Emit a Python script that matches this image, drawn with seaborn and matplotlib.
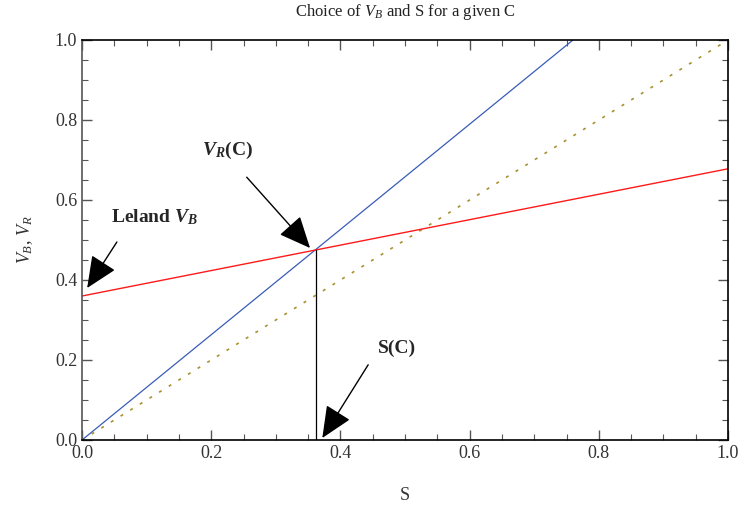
import numpy as np
import pandas as pd
import seaborn as sns
import matplotlib
matplotlib.use("Agg")
import matplotlib.pyplot as plt
from matplotlib.ticker import MultipleLocator

sns.set_style("ticks")
plt.rcParams["font.family"] = ["Liberation Serif", "DejaVu Serif"]
plt.rcParams["mathtext.fontset"] = "custom"
plt.rcParams["mathtext.it"] = "Liberation Serif:italic"
plt.rcParams["mathtext.bf"] = "Liberation Serif:bold:italic"
plt.rcParams["mathtext.rm"] = "Liberation Serif"

# Line endpoints (S, value)
s_leland = [0.0, 1.0]
v_leland = [0.36, 0.678]
s_vr = [0.0, 0.76]
v_vr = [0.0, 1.0]
s_diag = [0.0, 1.0]
v_diag = [0.0, 1.0]
s_c = 0.362
v_c = 0.476

fig = plt.figure(figsize=(7.43, 5.07), dpi=100)
ax = fig.add_axes([82 / 743, 67 / 507, 646 / 743, 400 / 507])

sns.lineplot(x=s_diag, y=v_diag, ax=ax, color="#a89030", lw=1.2,
             linestyle=(0, (1.8, 5)))
sns.lineplot(x=s_vr, y=v_vr, ax=ax, color="#3a5cb8", lw=0.9)
sns.lineplot(x=s_leland, y=v_leland, ax=ax, color="#ff1a1a", lw=1.0)
ax.plot([s_c, s_c], [0, v_c], color="black", lw=0.9)

ax.set_xlim(0, 1)
ax.set_ylim(0, 1)
ax.xaxis.set_major_locator(MultipleLocator(0.2))
ax.yaxis.set_major_locator(MultipleLocator(0.2))
ax.xaxis.set_minor_locator(MultipleLocator(0.05))
ax.yaxis.set_minor_locator(MultipleLocator(0.05))
ax.tick_params(which="both", direction="in", top=True, right=True,
               colors="#555555", labelcolor="#333333", labelsize=13)
ax.tick_params(which="major", length=7, width=1)
ax.tick_params(which="minor", length=4, width=0.8)
for sp in ax.spines.values():
    sp.set_color("#555555")
    sp.set_linewidth(1.2)
ax.spines["bottom"].set_color("black")
ax.spines["right"].set_color("black")
ax.spines["top"].set_color("black")

ax.set_xlabel("S", fontsize=13, color="#333333", labelpad=18)
ax.set_ylabel(r"$V_B$, $V_R$", fontsize=13, color="#333333", labelpad=14)
ax.set_title(r"Choice of $V_B$ and S for a given C", fontsize=12,
             color="#222222", pad=17)

arrow = dict(arrowstyle="-|>,head_length=0.9,head_width=0.4",
             mutation_scale=22, lw=1.0, color="black", shrinkA=0, shrinkB=0)
ax.annotate(r"Leland $\mathbf{V_B}$", xy=(0.008, 0.38), xytext=(0.113, 0.557),
            fontsize=14, fontweight="bold", ha="center", va="center")
ax.annotate("", xy=(0.008, 0.38), xytext=(0.054, 0.495), arrowprops=arrow)
ax.annotate(r"$\mathbf{V_R}$(C)", xy=(0.353, 0.48), xytext=(0.226, 0.725),
            fontsize=14, fontweight="bold", ha="center", va="center")
ax.annotate("", xy=(0.353, 0.48), xytext=(0.255, 0.657), arrowprops=arrow)
ax.annotate("S(C)", xy=(0.372, 0.005), xytext=(0.488, 0.23),
            fontsize=14, fontweight="bold", ha="center", va="center")
ax.annotate("", xy=(0.372, 0.005), xytext=(0.443, 0.188), arrowprops=arrow)

fig.savefig("out.png", dpi=100)
